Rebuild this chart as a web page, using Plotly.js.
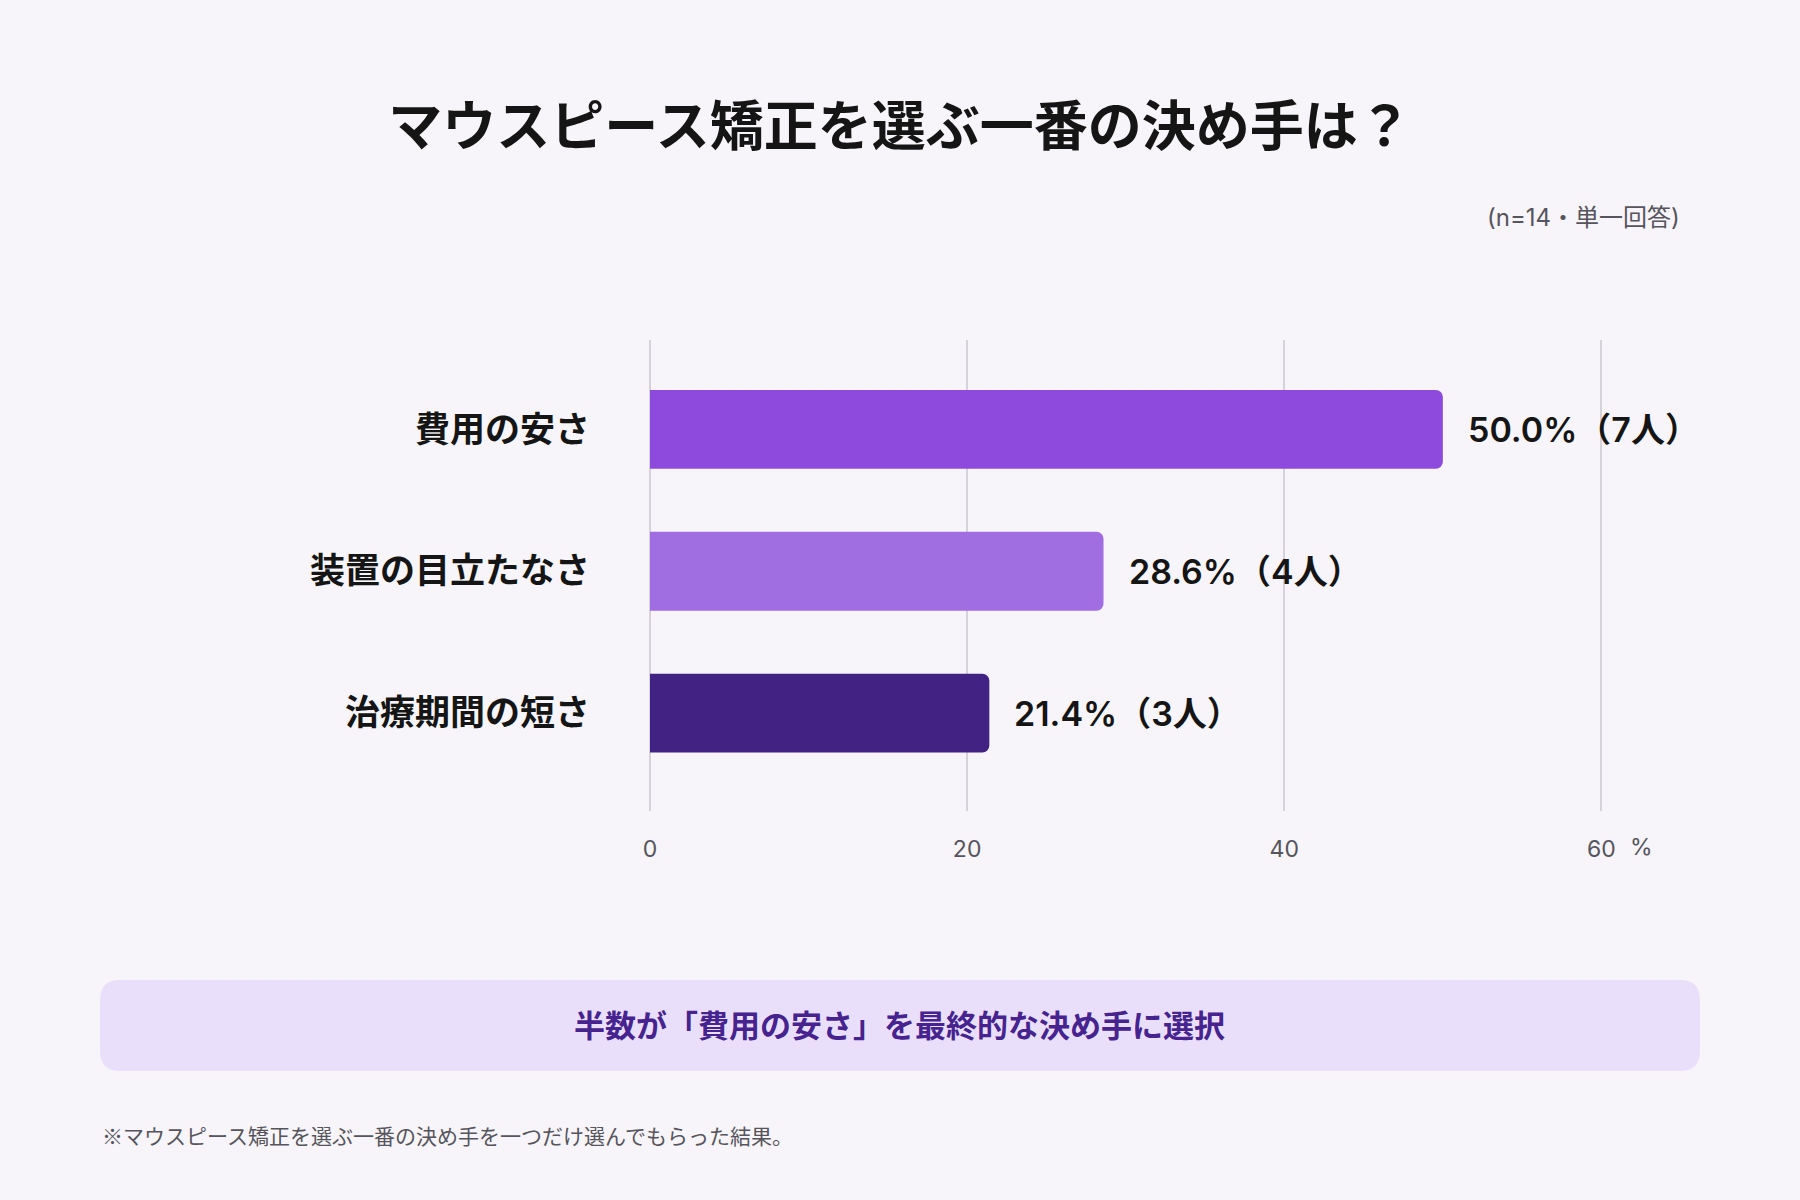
<!DOCTYPE html>
<html>
<head>
<meta charset="utf-8">
<script src="https://cdn.plot.ly/plotly-3.0.1.min.js"></script>
<style>
html,body{margin:0;padding:0;background:#F7F5F9;}
#chart{width:1800px;height:1200px;}
</style>
</head>
<body>
<div id="chart"></div>
<script>
const categories = ["費用の安さ", "装置の目立たなさ", "治療期間の短さ"];
const percents = [50.0, 28.6, 21.4];
const counts = [7, 4, 3];
const barColors = ["#8E4ADD", "#A06EE1", "#422384"];
const tickValues = [0, 20, 40, 60];
const tickLabels = ["0", "20", "40", "60"];

const FONT = '"Noto Sans CJK JP", "Noto Sans", sans-serif';
const LATIN = 'Inter, "Noto Sans CJK JP", sans-serif';

// plot area in pixels
const L = 650, R = 1603, T = 340, B = 811;
const W = 1800, H = 1200;
const px = x => (x - L) / (R - L);
const py = y => (B - y) / (B - T);

const trace = {
  type: 'bar',
  orientation: 'h',
  x: percents,
  y: categories,
  width: 0.556,
  marker: {color: barColors, line: {width: 0}},
  hoverinfo: 'skip'
};

const annotations = categories.map((c, i) => ({
  x: percents[i], y: c, xref: 'x', yref: 'y',
  xanchor: 'left', yanchor: 'middle', xshift: 23,
  text: percents[i].toFixed(1) + '%（' + counts[i] + '人）',
  showarrow: false,
  font: {family: LATIN, size: 34, color: '#151515', weight: 600}
}));

annotations.push({
  x: 60, xref: 'x', y: py(847), yref: 'paper',
  xanchor: 'left', yanchor: 'middle', xshift: 27,
  text: '%', showarrow: false,
  font: {family: LATIN, size: 23, color: '#56545C'}
});
annotations.push({
  x: px(1682), xref: 'paper', y: py(217), yref: 'paper',
  xanchor: 'right', yanchor: 'middle',
  text: '(n=14・単一回答)', showarrow: false,
  font: {family: LATIN, size: 24, color: '#56545C'}
});
annotations.push({
  x: px(899), xref: 'paper', y: py(1023), yref: 'paper',
  xanchor: 'center', yanchor: 'middle',
  text: '半数が「費用の安さ」を最終的な決め手に選択', showarrow: false,
  font: {family: FONT, size: 31, color: '#46238E', weight: 700}
});
annotations.push({
  x: px(100), xref: 'paper', y: py(1135), yref: 'paper',
  xanchor: 'left', yanchor: 'middle',
  text: '※マウスピース矯正を選ぶ一番の決め手を一つだけ選んでもらった結果。', showarrow: false,
  font: {family: FONT, size: 21, color: '#56545C'}
});

// rounded rectangle for the summary box
function roundRect(x0, y0, x1, y1, r) {
  const X0 = px(x0), X1 = px(x1), Y0 = py(y0), Y1 = py(y1);
  const rx = r / (R - L), ry = r / (B - T);
  return `M ${X0 + rx} ${Y0} L ${X1 - rx} ${Y0} Q ${X1} ${Y0} ${X1} ${Y0 - ry} ` +
         `L ${X1} ${Y1 + ry} Q ${X1} ${Y1} ${X1 - rx} ${Y1} ` +
         `L ${X0 + rx} ${Y1} Q ${X0} ${Y1} ${X0} ${Y1 + ry} ` +
         `L ${X0} ${Y0 - ry} Q ${X0} ${Y0} ${X0 + rx} ${Y0} Z`;
}

const layout = {
  width: W, height: H,
  paper_bgcolor: '#F7F5F9',
  plot_bgcolor: '#F7F5F9',
  margin: {l: L, r: W - R, t: T, b: H - B, pad: 0},
  barcornerradius: 7,
  showlegend: false,
  title: {
    text: 'マウスピース矯正を選ぶ一番の決め手は？',
    font: {family: FONT, size: 54, color: '#151515', weight: 700},
    x: 0.5, xref: 'container', xanchor: 'center',
    y: 1 - 127 / H, yref: 'container', yanchor: 'middle'
  },
  xaxis: {
    range: [0, 60.1],
    tickvals: tickValues, ticktext: tickLabels,
    showgrid: true, gridcolor: '#D5D2D9', gridwidth: 2,
    zeroline: true, zerolinecolor: '#D5D2D9', zerolinewidth: 2,
    showline: false, ticks: '',
    ticklabelstandoff: 22,
    tickfont: {family: LATIN, size: 23, color: '#56545C'},
    fixedrange: true
  },
  yaxis: {
    type: 'category',
    categoryorder: 'array', categoryarray: categories,
    range: [2.69, -0.63],
    showgrid: false, zeroline: false, showline: false, ticks: '',
    ticklabelstandoff: 59,
    tickfont: {family: FONT, size: 35, color: '#151515', weight: 700},
    fixedrange: true
  },
  shapes: [{
    type: 'path', xref: 'paper', yref: 'paper',
    path: roundRect(100, 980, 1700, 1071, 20),
    fillcolor: '#EADFFA', line: {width: 0}, layer: 'below'
  }],
  annotations: annotations
};

Plotly.newPlot('chart', [trace], layout, {displayModeBar: false, staticPlot: true});
</script>
</body>
</html>
